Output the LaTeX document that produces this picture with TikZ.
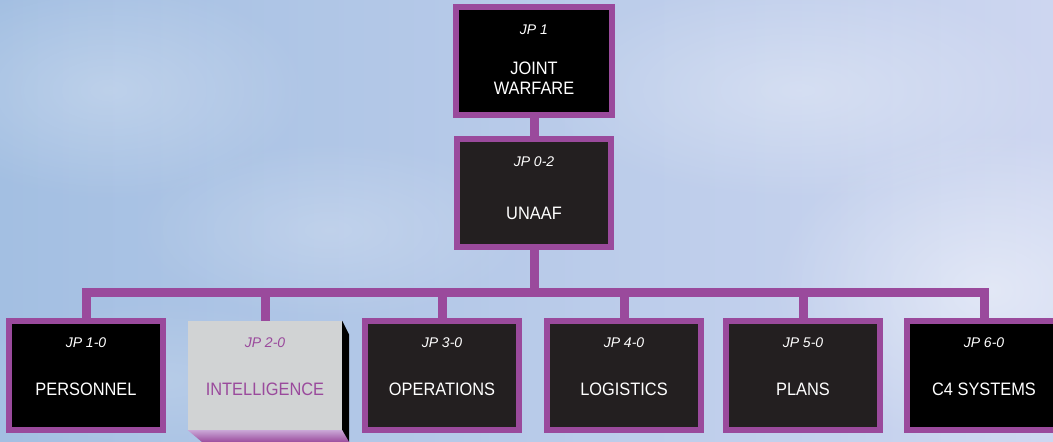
\documentclass[tikz,border=0pt]{standalone}
\usepackage{fontspec}
\setmainfont{Liberation Sans}[FakeStretch=0.91]
\newfontfamily\jpfont{Liberation Sans}
\usetikzlibrary{positioning, fadings}
\definecolor{jpurple}{HTML}{9A4A9C}
\definecolor{jdark}{HTML}{231F20}
\definecolor{jgrey}{HTML}{D1D3D4}
\definecolor{jlav}{HTML}{C9A6D6}
\definecolor{skyleft}{HTML}{A3BFE2}
\definecolor{skymid}{HTML}{8DB2DC}
\definecolor{skyright}{HTML}{CDD6F0}
\tikzfading[name=softcloud, inner color=transparent!0, outer color=transparent!100]
\tikzset{
  link/.style={draw=jpurple, line width=9pt},
  unit/.style={draw=jpurple, line width=6pt, fill=#1, minimum width=154pt, minimum height=109pt, inner sep=0pt},
  unit/.default=jdark,
  jp/.style={font=\jpfont\itshape\fontsize{14}{16}\selectfont, text=white, inner sep=0pt},
  title/.style={font=\fontsize{18}{20}\selectfont, text=white, inner sep=0pt, align=center},
  haze/.style={white, opacity=#1, path fading=softcloud},
}

\begin{document}
\begin{tikzpicture}[x=1pt, y=-1pt]
  \useasboundingbox (0,0) rectangle (1053,442);
  \clip (0,0) rectangle (1053,442);
  % sky
  \shade[left color=skyleft, middle color=skymid, right color=skyright] (0,0) rectangle (1053,442);
  \fill[haze=.25] (110,90) ellipse (200 and 110);
  \fill[haze=.20] (330,230) ellipse (200 and 90);
  \fill[haze=.30] (800,90) ellipse (260 and 110);
  \fill[haze=.45] (990,290) ellipse (220 and 160);
  \fill[haze=.15] (160,380) ellipse (200 and 80);
  % top of the tree
  \node[unit=black, minimum width=156pt, minimum height=108pt] (jp1) at (534,61) {};
  \node[jp] (jp1-jp) at ([yshift=-26pt]jp1.north) {JP 1};
  \node[title] (jp1-t) at ([yshift=-74pt]jp1.north) {JOINT\\WARFARE};
  \node[unit, minimum height=108pt] (unaaf) at (534,193) {};
  \node[jp] (unaaf-jp) at ([yshift=-26pt]unaaf.north) {JP 0-2};
  \node[title] (unaaf-t) at ([yshift=-77pt]unaaf.north) {UNAAF};
  % keystone pubs
  \foreach \n/\x/\jp/\t/\c in {pers/86/1-0/PERSONNEL/black, oper/442/3-0/OPERATIONS/jdark,
      logi/624/4-0/LOGISTICS/jdark, plan/803/5-0/PLANS/jdark, csys/984/6-0/C4 SYSTEMS/black} {
    \node[unit=\c] (\n) at (\x,375.5) {};
    \node[jp] (\n-jp) at ([yshift=-25pt]\n.north) {JP \jp};
    \node[title] (\n-t) at ([yshift=-71pt]\n.north) {\t};
  }
  % intelligence, raised
  \node[fill=jgrey, minimum width=154pt, minimum height=109pt, inner sep=0pt] (intl) at (265,375.5) {};
  \fill[black] (intl.north east) -- ++(7,14) -- ++(0,120) -- (intl.south east) -- cycle;
  \shade[top color=jlav, bottom color=jpurple] (intl.south west) -- (intl.south east) -- ++(7,12) -- ++(-147,0) -- cycle;
  \node[jp, text=jpurple] (intl-jp) at ([yshift=-22pt]intl.north) {JP 2-0};
  \node[title, text=jpurple] (intl-t) at ([yshift=-68pt]intl.north) {INTELLIGENCE};
  % connectors
  \coordinate (bus) at (534,292);
  \draw[link] (jp1.south) -- (unaaf.north);
  \foreach \n in {pers, intl, oper, logi, plan, csys}
    \draw[link] (unaaf.south) |- (bus) -| (\n.north);
\end{tikzpicture}
\end{document}
